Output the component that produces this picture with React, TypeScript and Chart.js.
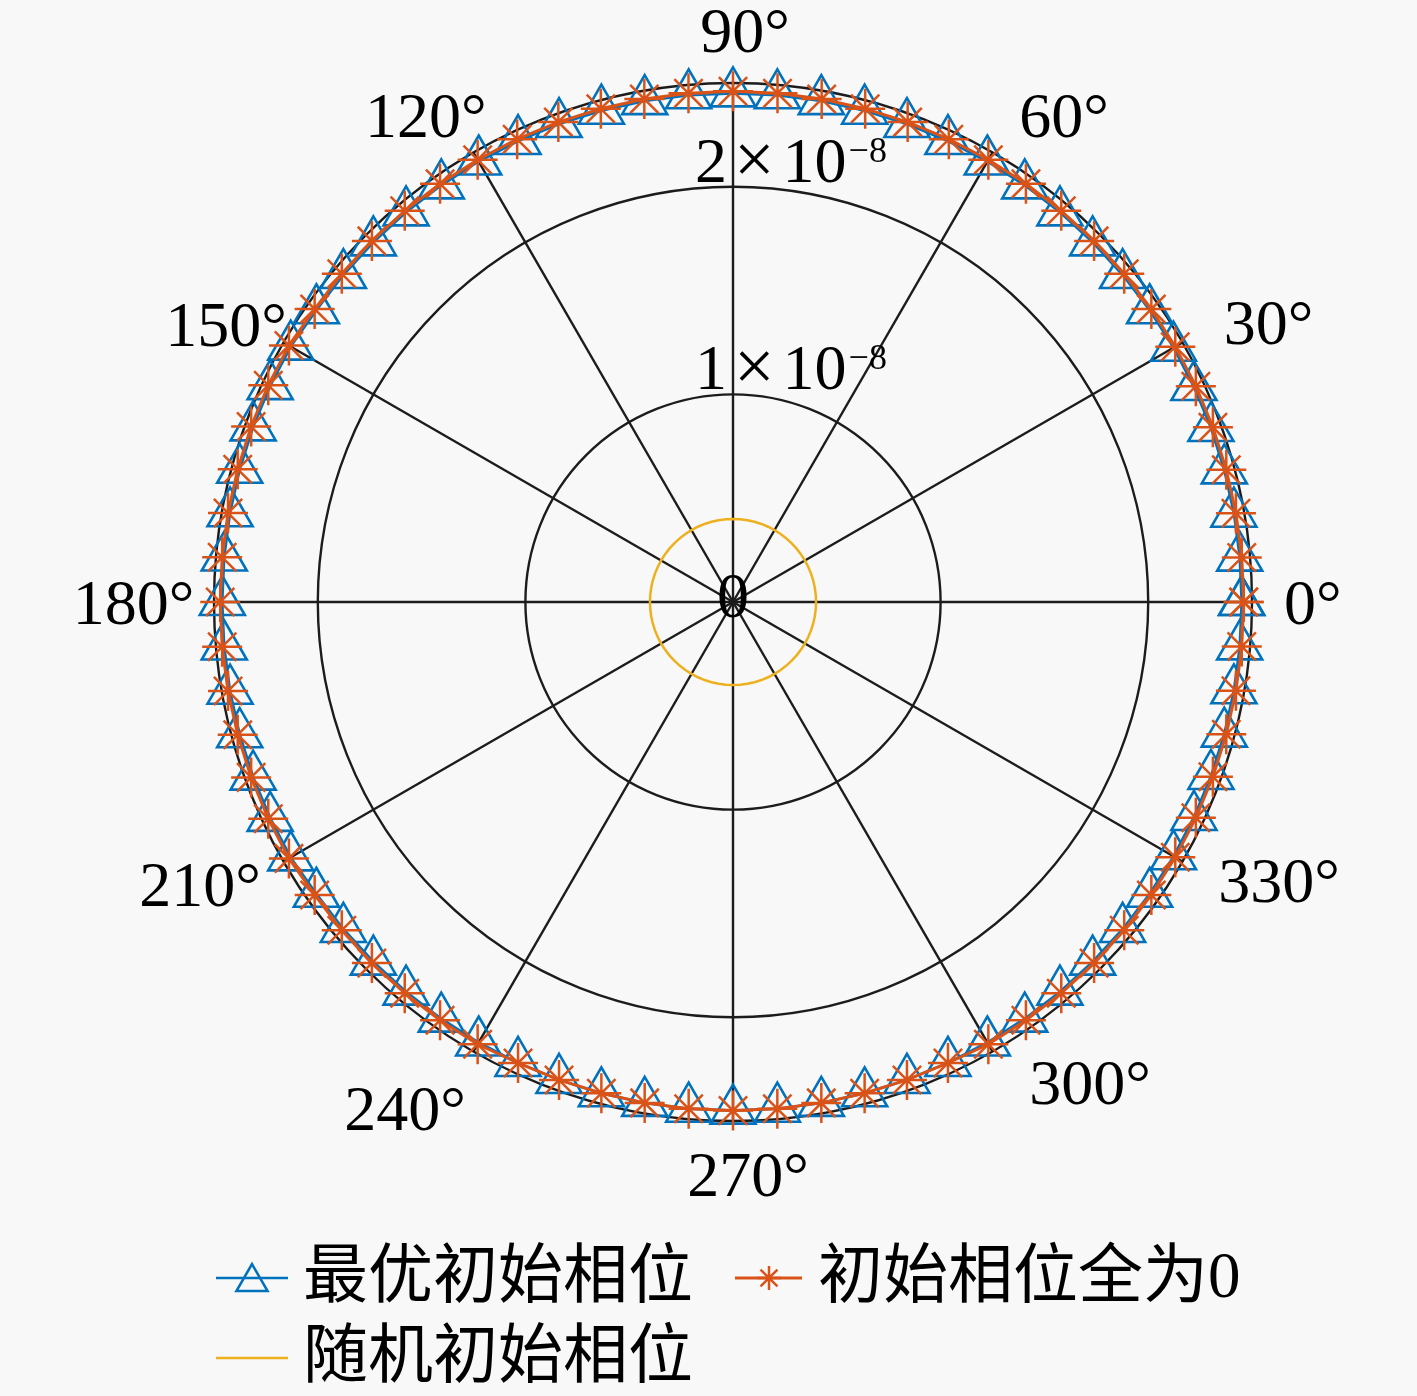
import React, { useEffect, useRef } from 'react';
import { Chart, registerables } from 'chart.js';

Chart.register(...registerables);

// ---------- data ----------
const thetaDeg = [
  0, 5, 10, 15, 20, 25, 30, 35, 40, 45, 50, 55, 60, 65, 70, 75, 80, 85,
  90, 95, 100, 105, 110, 115, 120, 125, 130, 135, 140, 145, 150, 155, 160, 165, 170, 175,
  180, 185, 190, 195, 200, 205, 210, 215, 220, 225, 230, 235, 240, 245, 250, 255, 260, 265,
  270, 275, 280, 285, 290, 295, 300, 305, 310, 315, 320, 325, 330, 335, 340, 345, 350, 355,
  360,
];
// radius in units of 1e-8
const rOptimal = [
  2.45, 2.45, 2.45, 2.45, 2.45, 2.45, 2.45, 2.45, 2.45, 2.45, 2.45, 2.45, 2.45, 2.45, 2.45, 2.45, 2.45, 2.45,
  2.45, 2.45, 2.45, 2.45, 2.45, 2.45, 2.45, 2.45, 2.45, 2.45, 2.45, 2.45, 2.46, 2.46, 2.46, 2.46, 2.46, 2.46,
  2.46, 2.46, 2.46, 2.46, 2.46, 2.46, 2.46, 2.45, 2.45, 2.45, 2.45, 2.45, 2.45, 2.45, 2.45, 2.45, 2.45, 2.45,
  2.45, 2.45, 2.45, 2.45, 2.45, 2.45, 2.45, 2.45, 2.45, 2.45, 2.45, 2.45, 2.45, 2.45, 2.45, 2.45, 2.45, 2.45,
  2.45,
];
const rZeroPhase = [
  2.46, 2.46, 2.46, 2.46, 2.46, 2.46, 2.46, 2.46, 2.46, 2.46, 2.46, 2.46, 2.46, 2.46, 2.46, 2.46, 2.46, 2.46,
  2.46, 2.46, 2.46, 2.46, 2.46, 2.46, 2.46, 2.46, 2.46, 2.46, 2.46, 2.46, 2.47, 2.47, 2.47, 2.47, 2.47, 2.47,
  2.47, 2.47, 2.47, 2.47, 2.47, 2.47, 2.47, 2.46, 2.46, 2.46, 2.46, 2.46, 2.46, 2.45, 2.45, 2.45, 2.45, 2.45,
  2.45, 2.45, 2.45, 2.45, 2.45, 2.45, 2.46, 2.46, 2.46, 2.46, 2.46, 2.46, 2.46, 2.46, 2.46, 2.46, 2.46, 2.46,
  2.46,
];
const rRandom = [
  0.4, 0.4, 0.4, 0.4, 0.4, 0.4, 0.4, 0.4, 0.4, 0.4, 0.4, 0.4, 0.4, 0.4, 0.4, 0.4, 0.4, 0.4,
  0.4, 0.4, 0.4, 0.4, 0.4, 0.4, 0.4, 0.4, 0.4, 0.4, 0.4, 0.4, 0.4, 0.4, 0.4, 0.4, 0.4, 0.4,
  0.4, 0.4, 0.4, 0.4, 0.4, 0.4, 0.4, 0.4, 0.4, 0.4, 0.4, 0.4, 0.4, 0.4, 0.4, 0.4, 0.4, 0.4,
  0.4, 0.4, 0.4, 0.4, 0.4, 0.4, 0.4, 0.4, 0.4, 0.4, 0.4, 0.4, 0.4, 0.4, 0.4, 0.4, 0.4, 0.4,
  0.4,
];
const radialTicks = [0, 1, 2];
const radialExponent = '−8';
const rMax = 2.5;
const angleTicks = [0, 30, 60, 90, 120, 150, 180, 210, 240, 270, 300, 330];
const seriesNames = ['最优初始相位', '初始相位全为0', '随机初始相位'];

// ---------- layout / style ----------
// centre of each angle label, relative to the plot centre, as a fraction of the outer radius (y up)
const angleLabelPos: Record<number, [number, number]> = {
  0: [1.117, 0],
  30: [1.032, 0.538],
  60: [0.638, 0.938],
  90: [0.023, 1.102],
  120: [-0.592, 0.938],
  150: [-0.977, 0.534],
  180: [-1.155, 0],
  210: [-1.027, -0.545],
  240: [-0.632, -0.975],
  270: [0.029, -1.104],
  300: [0.688, -0.925],
  330: [1.052, -0.536],
};
const BLUE = '#0072BD';
const ORANGE = '#D95319';
const YELLOW = '#EDB120';
const GRID = '#1c1c1c';
const BG = '#f8f8f8';
const LATIN = '"Liberation Serif", "Times New Roman", serif';
const LABEL_FONT = `64px ${LATIN}`;
const TIMES_FONT = `72px ${LATIN}`;
const SUP_FONT = `36px ${LATIN}`;
const LEGEND_FONT = `65px "Liberation Serif", "Noto Sans CJK SC", serif`;

const toXY = (th: number[], r: number[]) =>
  th.map((t, i) => ({
    x: r[i] * Math.cos((t * Math.PI) / 180),
    y: r[i] * Math.sin((t * Math.PI) / 180),
  }));

function drawTriangle(ctx: CanvasRenderingContext2D, x: number, y: number, R: number) {
  ctx.beginPath();
  for (let k = 0; k < 3; k++) {
    const a = (k * 2 * Math.PI) / 3;
    const px = x + Math.sin(a) * R;
    const py = y - Math.cos(a) * R;
    if (k === 0) ctx.moveTo(px, py);
    else ctx.lineTo(px, py);
  }
  ctx.closePath();
  ctx.stroke();
}

function drawStar(ctx: CanvasRenderingContext2D, x: number, y: number, R: number) {
  ctx.beginPath();
  for (let k = 0; k < 4; k++) {
    const a = (k * Math.PI) / 4;
    ctx.moveTo(x - Math.cos(a) * R, y - Math.sin(a) * R);
    ctx.lineTo(x + Math.cos(a) * R, y + Math.sin(a) * R);
  }
  ctx.stroke();
}

const polarPlugin = {
  id: 'polarPlugin',
  beforeDraw(chart: any) {
    const ctx = chart.ctx;
    ctx.save();
    ctx.fillStyle = BG;
    ctx.fillRect(0, 0, chart.width, chart.height);
    ctx.restore();
  },
  beforeDatasetsDraw(chart: any) {
    const ctx = chart.ctx;
    const xs = chart.scales.x;
    const ys = chart.scales.y;
    const cx = xs.getPixelForValue(0);
    const cy = ys.getPixelForValue(0);
    const unit = xs.getPixelForValue(1) - cx;
    ctx.save();
    ctx.strokeStyle = GRID;
    ctx.lineWidth = 2.4;
    const rings = radialTicks.filter((v) => v > 0).concat([rMax]);
    rings.forEach((v) => {
      ctx.beginPath();
      ctx.arc(cx, cy, v * unit, 0, Math.PI * 2);
      ctx.stroke();
    });
    angleTicks.forEach((a) => {
      const rad = (a * Math.PI) / 180;
      ctx.beginPath();
      ctx.moveTo(cx, cy);
      ctx.lineTo(cx + Math.cos(rad) * rMax * unit, cy - Math.sin(rad) * rMax * unit);
      ctx.stroke();
    });
    ctx.restore();
  },
  afterDraw(chart: any) {
    const ctx = chart.ctx;
    const xs = chart.scales.x;
    const ys = chart.scales.y;
    const cx = xs.getPixelForValue(0);
    const cy = ys.getPixelForValue(0);
    const unit = xs.getPixelForValue(1) - cx;
    const R = rMax * unit;
    ctx.save();
    ctx.fillStyle = '#000';
    ctx.font = LABEL_FONT;
    ctx.textBaseline = 'alphabetic';
    const digitH = 43;
    // angle labels
    angleTicks.forEach((a) => {
      const txt = `${a}°`;
      const p = angleLabelPos[a];
      const x = cx + p[0] * R;
      const y = cy - p[1] * R;
      ctx.textAlign = 'center';
      ctx.fillText(txt, x, y + digitH / 2);
    });
    // radial tick labels
    radialTicks.forEach((v) => {
      if (v === 0) {
        ctx.font = LABEL_FONT;
        ctx.textAlign = 'center';
        ctx.fillText('0', cx, cy - 7 + digitH / 2);
        return;
      }
      const ringY = cy - v * unit;
      const base = ringY - 5;
      let x = cx - 38;
      ctx.textAlign = 'left';
      ctx.font = LABEL_FONT;
      const a = String(v);
      ctx.fillText(a, x, base);
      x += ctx.measureText(a).width + 7;
      ctx.font = TIMES_FONT;
      ctx.fillText('×', x, base + 1);
      x += ctx.measureText('×').width + 8;
      ctx.font = LABEL_FONT;
      ctx.fillText('10', x, base);
      x += ctx.measureText('10').width + 2;
      ctx.font = SUP_FONT;
      ctx.fillText(radialExponent, x, base - 20);
    });
    // legend
    const row1 = 1278;
    const row2 = 1358;
    ctx.font = LEGEND_FONT;
    ctx.textAlign = 'left';
    ctx.textBaseline = 'middle';
    // item 1
    ctx.strokeStyle = BLUE;
    ctx.lineWidth = 2.5;
    ctx.beginPath();
    ctx.moveTo(216, row1);
    ctx.lineTo(288, row1);
    ctx.stroke();
    drawTriangle(ctx, 252, row1 + 4, 18);
    ctx.fillStyle = '#000';
    ctx.fillText(seriesNames[0], 303, row1 + 2);
    // item 2
    ctx.strokeStyle = ORANGE;
    ctx.lineWidth = 3;
    ctx.beginPath();
    ctx.moveTo(735, row1);
    ctx.lineTo(802, row1);
    ctx.stroke();
    ctx.lineWidth = 2.5;
    drawStar(ctx, 769, row1, 12);
    ctx.fillText(seriesNames[1], 818, row1 + 2);
    // item 3
    ctx.strokeStyle = YELLOW;
    ctx.lineWidth = 2.5;
    ctx.beginPath();
    ctx.moveTo(216, row2);
    ctx.lineTo(288, row2);
    ctx.stroke();
    ctx.fillText(seriesNames[2], 303, row2 + 2);
    ctx.restore();
  },
};

export default function App() {
  const canvasRef = useRef<HTMLCanvasElement | null>(null);
  useEffect(() => {
    const canvas = canvasRef.current;
    if (!canvas) return;
    const chart = new Chart(canvas, {
      type: 'scatter',
      data: {
        datasets: [
          {
            label: seriesNames[0],
            data: toXY(thetaDeg, rOptimal),
            showLine: true,
            borderColor: BLUE,
            borderWidth: 2.5,
            pointStyle: 'triangle',
            pointRadius: 26,
            pointBorderWidth: 2.6,
            pointBorderColor: BLUE,
            pointBackgroundColor: 'rgba(0,0,0,0)',
            clip: false,
            order: 3,
          },
          {
            label: seriesNames[1],
            data: toXY(thetaDeg, rZeroPhase),
            showLine: true,
            borderColor: ORANGE,
            borderWidth: 3,
            pointStyle: 'star',
            pointRadius: 20,
            pointBorderWidth: 2.5,
            pointBorderColor: ORANGE,
            pointBackgroundColor: ORANGE,
            clip: false,
            order: 2,
          },
          {
            label: seriesNames[2],
            data: toXY(thetaDeg, rRandom),
            showLine: true,
            borderColor: YELLOW,
            borderWidth: 2.5,
            pointRadius: 0,
            clip: false,
            order: 1,
          },
        ],
      },
      options: {
        animation: false,
        responsive: false,
        devicePixelRatio: 1,
        layout: { padding: { left: 214, right: 165, top: 83, bottom: 275 } },
        scales: {
          x: { type: 'linear', min: -rMax, max: rMax, display: false },
          y: { type: 'linear', min: -rMax, max: rMax, display: false },
        },
        plugins: {
          legend: { display: false },
          tooltip: { enabled: false },
        },
        events: [],
      },
      plugins: [polarPlugin],
    });
    return () => chart.destroy();
  }, []);
  return (
    <div style={{ position: 'absolute', left: 0, top: 0, width: 1417, height: 1396 }}>
      <canvas ref={canvasRef} width={1417} height={1396} style={{ display: 'block' }} />
    </div>
  );
}
